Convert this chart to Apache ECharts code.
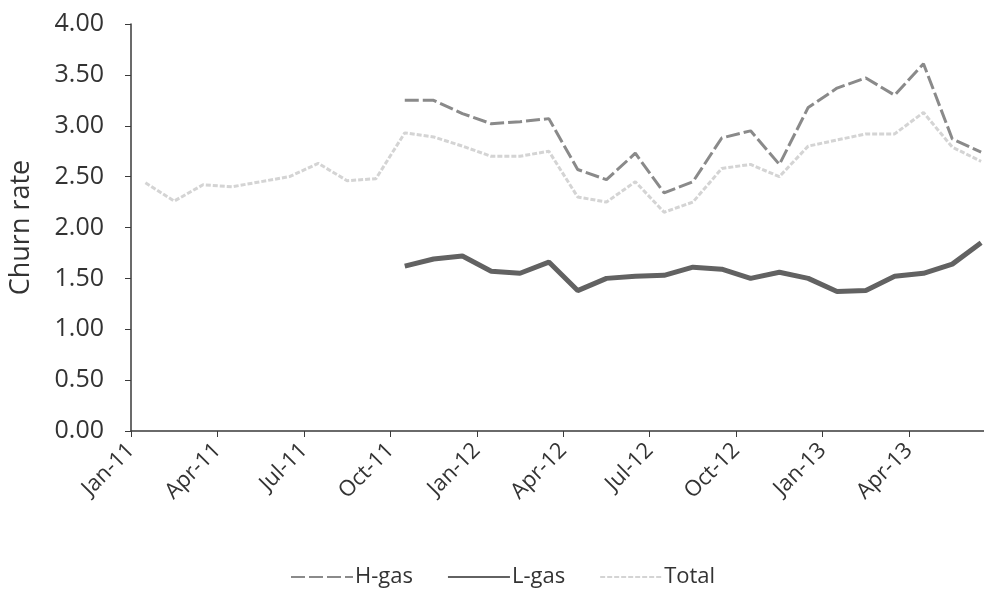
<!DOCTYPE html>
<html>
<head>
<meta charset="utf-8">
<script src="https://cdn.jsdelivr.net/npm/echarts@6/dist/echarts.min.js"></script>
<style>
  html, body { margin: 0; padding: 0; background: #ffffff; }
  #chart { width: 984px; height: 589px; }
</style>
</head>
<body>
<div id="chart"></div>
<script>
// Monthly periods, Jan-11 through Jun-13
const months = [
  'Jan-11','Feb-11','Mar-11','Apr-11','May-11','Jun-11','Jul-11','Aug-11','Sep-11','Oct-11','Nov-11','Dec-11',
  'Jan-12','Feb-12','Mar-12','Apr-12','May-12','Jun-12','Jul-12','Aug-12','Sep-12','Oct-12','Nov-12','Dec-12',
  'Jan-13','Feb-13','Mar-13','Apr-13','May-13','Jun-13'
];

// Churn rate per month (null = no value for that month)
const hGas = [
  null, null, null, null, null, null, null, null, null, 3.25, 3.25, 3.12,
  3.02, 3.04, 3.07, 2.57, 2.47, 2.73, 2.34, 2.45, 2.88, 2.95, 2.62, 3.18,
  3.37, 3.47, 3.30, 3.61, 2.87, 2.74
];
const lGas = [
  null, null, null, null, null, null, null, null, null, 1.62, 1.69, 1.72,
  1.57, 1.55, 1.66, 1.38, 1.50, 1.52, 1.53, 1.61, 1.59, 1.50, 1.56, 1.50,
  1.37, 1.38, 1.52, 1.55, 1.64, 1.85
];
const total = [
  2.44, 2.26, 2.42, 2.40, 2.45, 2.50, 2.63, 2.46, 2.48, 2.93, 2.89, 2.80,
  2.70, 2.70, 2.75, 2.30, 2.25, 2.45, 2.15, 2.25, 2.58, 2.62, 2.50, 2.80,
  2.86, 2.92, 2.92, 3.13, 2.79, 2.65
];

// Quarterly tick labels on the time axis
const tickLabels = ['Jan-11','Apr-11','Jul-11','Oct-11','Jan-12','Apr-12','Jul-12','Oct-12','Jan-13','Apr-13'];

// Each monthly value sits in the middle of its month
function toPoints(values) {
  return values.map((v, i) => [i + 0.5, v]);
}

const font = '"Open Sans", "DejaVu Sans", sans-serif';

const chart = echarts.init(document.getElementById('chart'), null, { renderer: 'canvas' });

chart.setOption({
  backgroundColor: '#ffffff',
  animation: false,
  grid: { left: 128, right: 0, top: 24, bottom: 158 },
  xAxis: {
    type: 'value',
    min: 0,
    max: 29.6,
    interval: 3,
    axisLine: { show: true, onZero: false, lineStyle: { color: '#3a3a3a', width: 1.5 } },
    axisTick: { show: true, length: 6, lineStyle: { color: '#3a3a3a', width: 1 } },
    splitLine: { show: false },
    axisLabel: {
      rotate: 45,
      margin: 16,
      fontFamily: font,
      fontSize: 22,
      color: '#333333',
      showMaxLabel: false,
      formatter: function (v) {
        const k = Math.round(v);
        if (Math.abs(v - k) > 1e-6 || k % 3 !== 0) return '';
        return tickLabels[k / 3] || '';
      }
    }
  },
  yAxis: {
    type: 'value',
    min: 0,
    max: 4,
    interval: 0.5,
    name: 'Churn rate',
    nameLocation: 'middle',
    nameGap: 96,
    nameTextStyle: { fontFamily: font, fontSize: 27, color: '#333333' },
    axisLine: { show: true, lineStyle: { color: '#3a3a3a', width: 1.5 } },
    axisTick: { show: true, length: 6, lineStyle: { color: '#3a3a3a', width: 1 } },
    splitLine: { show: false },
    axisLabel: {
      margin: 27,
      fontFamily: font,
      fontSize: 25,
      color: '#333333',
      formatter: v => v.toFixed(2)
    }
  },
  legend: {
    left: 285,
    top: 561,
    itemWidth: 62,
    itemHeight: 12,
    itemGap: 34,
    itemStyle: { opacity: 0 },
    textStyle: { fontFamily: font, fontSize: 22, color: '#333333', padding: [0, 0, 0, -3] },
    data: ['H-gas', 'L-gas', 'Total']
  },
  series: [
    {
      name: 'Total',
      type: 'line',
      data: toPoints(total),
      symbol: 'none',
      connectNulls: false,
      lineStyle: { color: '#d4d4d4', width: 3, type: [5, 2] },
      itemStyle: { color: '#d4d4d4' },
      z: 1
    },
    {
      name: 'H-gas',
      type: 'line',
      data: toPoints(hGas),
      symbol: 'none',
      lineStyle: { color: '#8a8a8a', width: 3, type: [14, 4] },
      itemStyle: { color: '#8a8a8a' },
      z: 2
    },
    {
      name: 'L-gas',
      type: 'line',
      data: toPoints(lGas),
      symbol: 'none',
      lineStyle: { color: '#626262', width: 5 },
      itemStyle: { color: '#626262' },
      z: 3
    }
  ]
});
</script>
</body>
</html>
